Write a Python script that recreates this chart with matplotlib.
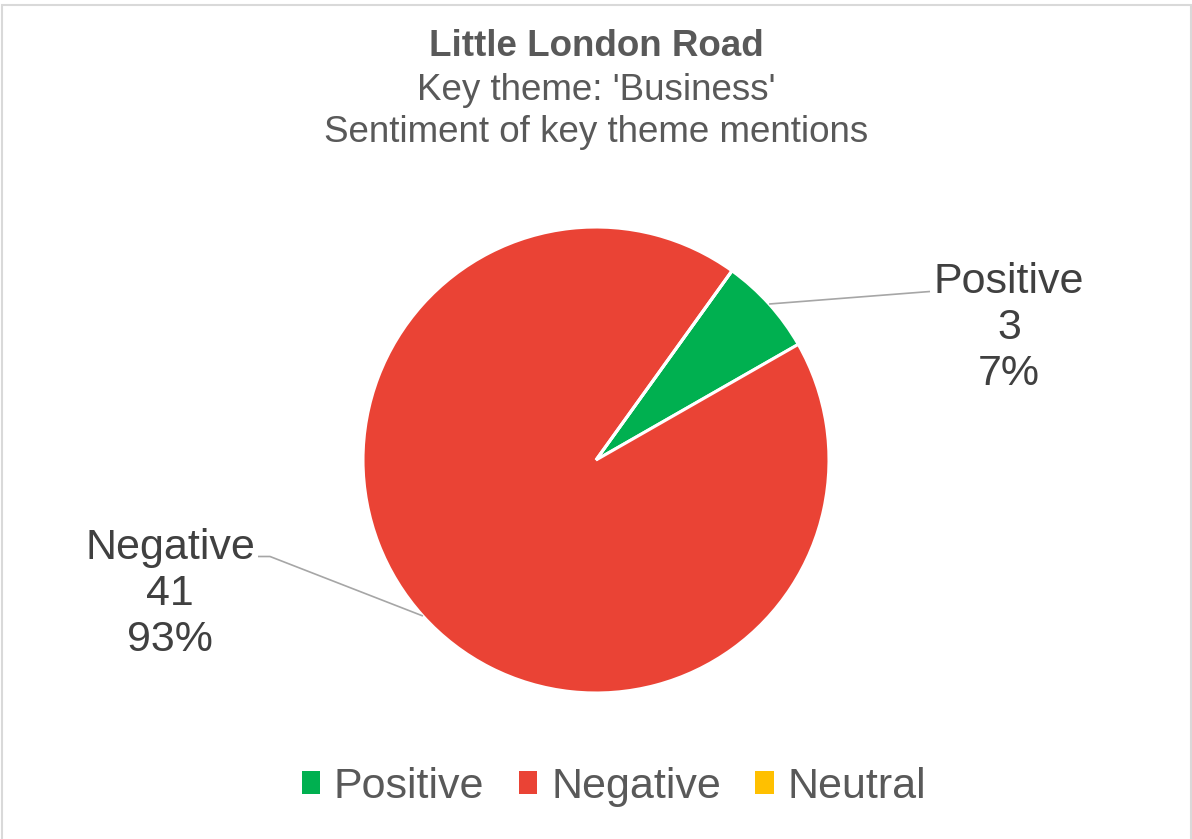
import numpy as np
import matplotlib
matplotlib.use("Agg")
import matplotlib.pyplot as plt
from matplotlib.patches import Rectangle, Patch

plt.rcParams['font.family'] = ['Liberation Sans', 'DejaVu Sans']

# sentiment counts for the key theme
categories = ["Positive", "Negative", "Neutral"]
counts = [3, 41, 0]
colours = ["#00B050", "#EA4335", "#FFC000"]

title = "Little London Road"
subtitle = ["Key theme: 'Business'", "Sentiment of key theme mentions"]

W, H = 1192, 839
fig = plt.figure(figsize=(W / 100, H / 100), dpi=100)
ax = fig.add_axes([0, 0, 1, 1])

def py(y):
    # pixel row measured from the top
    return H - y

cx, cy, r = 596, py(460), 233
start = 54.3
wedges, _ = ax.pie(counts, colors=colours, startangle=start, counterclock=False,
                   center=(cx, cy), radius=r, frame=True,
                   wedgeprops=dict(edgecolor="white", linewidth=2.2))
ax.set_xlim(0, W)
ax.set_ylim(0, H)
ax.set_aspect("equal")
ax.axis("off")

# data labels with leader lines
total = sum(counts)
label_pos = {"Positive": (1009, 328), "Negative": (170, 594)}
elbow = {"Positive": [(930, 291.5)], "Negative": [(270, 556.5), (258, 556.5)]}
for w, name, n in zip(wedges, categories, counts):
    if name not in label_pos:
        continue
    mid = np.deg2rad((w.theta1 + w.theta2) / 2)
    x0, y0 = cx + r * np.cos(mid), cy + r * np.sin(mid)
    xs = [x0] + [p[0] for p in elbow[name]]
    ys = [y0] + [py(p[1]) for p in elbow[name]]
    ax.plot(xs, ys, color="#A6A6A6", lw=1.2, solid_capstyle="butt")
    lx, ly = label_pos[name]
    ax.text(lx, py(ly), f"{name}\n{n}\n{round(n / total * 100)}%",
            ha="center", va="center", fontsize=31, color="#404040",
            linespacing=1.2)

ax.text(W / 2, py(46), title, ha="center", va="center", fontsize=26.5,
        fontweight="bold", color="#595959")
ax.text(W / 2, py(91), subtitle[0], ha="center", va="center", fontsize=26.5,
        color="#595959")
ax.text(W / 2, py(133), subtitle[1], ha="center", va="center", fontsize=26.5,
        color="#595959")

# chart area border
ax.add_patch(Rectangle((1.5, py(845)), W - 3, 845 - 4.5, fill=False,
                       edgecolor="#D9D9D9", lw=1.5, clip_on=False))

handles = [Patch(facecolor=c, edgecolor="none") for c in colours]
fig.legend(handles, categories, loc="center", bbox_to_anchor=(614 / W, 1 - 787 / H),
           ncol=3, frameon=False, fontsize=31, labelcolor="#595959",
           handlelength=0.42, handleheight=0.42, handletextpad=0.33,
           columnspacing=0.8)

fig.savefig("out.png", dpi=100)
